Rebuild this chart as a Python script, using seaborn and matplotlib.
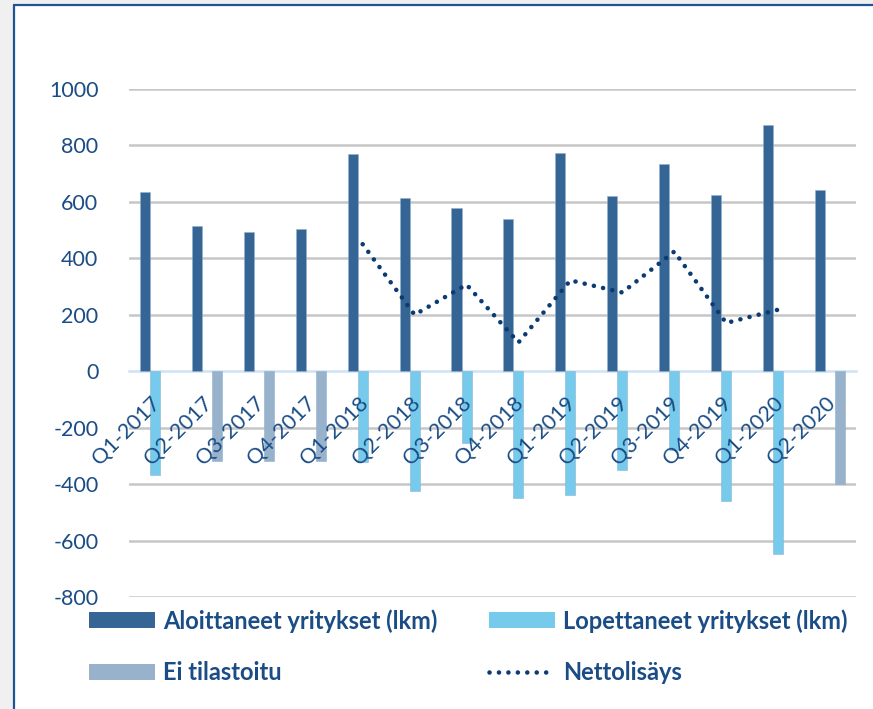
import numpy as np
import pandas as pd
import matplotlib
matplotlib.use("Agg")
import matplotlib.pyplot as plt
import matplotlib.transforms as mtransforms
from matplotlib.patches import Rectangle, Patch
from matplotlib.lines import Line2D
import seaborn as sns

# ---- data ----
quarters = ["Q1-2017", "Q2-2017", "Q3-2017", "Q4-2017",
            "Q1-2018", "Q2-2018", "Q3-2018", "Q4-2018",
            "Q1-2019", "Q2-2019", "Q3-2019", "Q4-2019",
            "Q1-2020", "Q2-2020"]
aloittaneet = [636, 515, 495, 505, 770, 613, 578, 538, 775, 620, 735, 625, 872, 642]
lopettaneet = [-369, None, None, None, -320, -424, -255, -450, -440, -350, -278, -460, -646, None]
ei_tilastoitu = [None, -318, -318, -318, None, None, None, None, None, None, None, None, None, -398]
netto_quarters = ["Q1-2018", "Q2-2018", "Q3-2018", "Q4-2018", "Q1-2019",
                  "Q2-2019", "Q3-2019", "Q4-2019", "Q1-2020"]
nettolisays = [450, 200, 307, 102, 322, 279, 424, 171, 218]
yticks = [-800, -600, -400, -200, 0, 200, 400, 600, 800, 1000]

series_names = ["Aloittaneet yritykset (lkm)", "Lopettaneet yritykset (lkm)", "Ei tilastoitu"]
net_name = "Nettolisäys"

c_dark = "#346594"
c_light = "#76CBEC"
c_gray = "#99B2CB"
c_line = "#0B3B73"
c_text = "#1A4C85"

rows = []
for s, vals in zip(series_names, [aloittaneet, lopettaneet, ei_tilastoitu]):
    for q, v in zip(quarters, vals):
        if v is not None:
            rows.append({"quarter": q, "series": s, "value": v})
df = pd.DataFrame(rows)

sns.set_theme(style="white")
plt.rcParams["font.family"] = ["Lato", "DejaVu Sans"]

fig = plt.figure(figsize=(8.73, 7.09), dpi=100)
fig.patch.set_facecolor("#F0F0F0")
# white chart area with blue frame on left & top
x0 = 14 / 873
y1 = 1 - 4.5 / 709
fig.patches.append(Rectangle((x0, 0), 1 - x0, y1, transform=fig.transFigure,
                             facecolor="white", edgecolor="none", zorder=-5))
fig.lines.append(Line2D([x0, x0], [0, y1], transform=fig.transFigure,
                        color="#1F5494", linewidth=1.6, zorder=-4))
fig.lines.append(Line2D([x0, 1], [y1, y1], transform=fig.transFigure,
                        color="#1F5494", linewidth=1.6, zorder=-4))

ax = fig.add_axes([129 / 873, 1 - 597 / 709, (856 - 129) / 873, (597 - 89) / 709])
ax.set_facecolor("none")
ax.set_axisbelow(False)

# horizontal gridlines (below bars)
for v in yticks:
    if v != 0:
        ax.axhline(v, color="#C6C6C6", linewidth=1.8, zorder=0.5)

sns.barplot(data=df, x="quarter", y="value", hue="series", order=quarters,
            hue_order=series_names, palette=[c_dark, c_light, c_gray],
            width=0.58, dodge=True, legend=False, ax=ax, saturation=1,
            edgecolor="#8FB0D0", linewidth=0.4, zorder=1.5)

net_df = pd.DataFrame({"x": [quarters.index(q) for q in netto_quarters],
                       "y": nettolisays})
sns.lineplot(data=net_df, x="x", y="y", ax=ax, color=c_line, linewidth=3.3,
             linestyle=(0, (0.01, 2.05)), dash_capstyle="round", zorder=1.8)

ax.set_xlim(-0.5, len(quarters) - 0.5)
ax.set_ylim(-800, 1000)
ax.set_yticks(yticks)
ax.set_yticklabels([str(v) for v in yticks], color=c_text, fontsize=15.5)
ax.grid(False)
ax.set_axisbelow(False)
for sp in ["top", "right", "left"]:
    ax.spines[sp].set_visible(False)
ax.spines["bottom"].set_position(("data", 0))
ax.spines["bottom"].set_color("#CDE2F7")
ax.spines["bottom"].set_linewidth(1.8)
ax.spines["bottom"].set_zorder(1.2)
ax.tick_params(axis="y", length=0, pad=22)
ax.tick_params(axis="x", length=0, pad=6)
ax.set_xticks(range(len(quarters)))
ax.set_xticklabels(quarters, rotation=45, ha="right", va="top",
                   rotation_mode="anchor", color=c_text, fontsize=15.5)
shift = mtransforms.ScaledTranslation(-0.05, -0.13, fig.dpi_scale_trans)
for lbl in ax.get_xticklabels():
    lbl.set_transform(lbl.get_transform() + shift)
ax.xaxis.set_zorder(3)
ax.yaxis.set_zorder(3)
ax.set_xlabel("")
ax.set_ylabel("")

handles = [Patch(facecolor=c_dark, edgecolor="none"),
           Patch(facecolor=c_gray, edgecolor="none"),
           Patch(facecolor=c_light, edgecolor="none"),
           Line2D([0], [0], color=c_line, linewidth=3.3,
                  linestyle=(0, (0.01, 2.05)), dash_capstyle="round")]
labels = [series_names[0], series_names[2], series_names[1], net_name]
leg = fig.legend(handles, labels, ncol=2, loc="upper left",
                 bbox_to_anchor=(89 / 873, 1 - 609 / 709), frameon=False,
                 prop={"family": ["Lato", "DejaVu Sans"], "weight": "bold", "size": 17},
                 handlelength=2.8, handleheight=0.65, handletextpad=0.35,
                 columnspacing=2.15, labelspacing=1.2, borderpad=0, borderaxespad=0)
for t in leg.get_texts():
    t.set_color(c_text)

fig.savefig("out.png", dpi=100, facecolor=fig.get_facecolor())
